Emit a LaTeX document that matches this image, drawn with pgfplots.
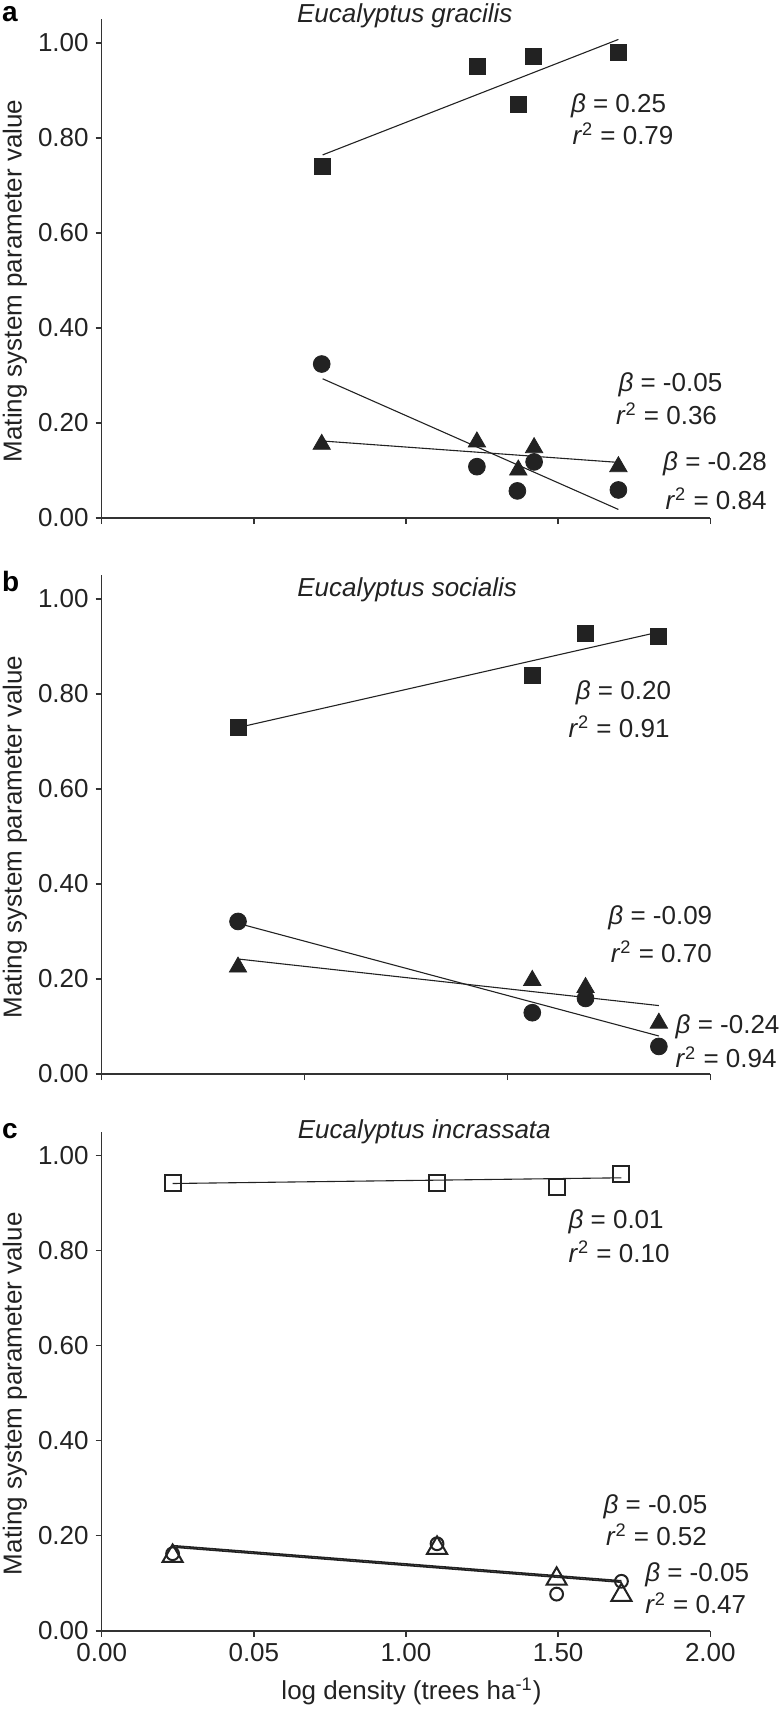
\documentclass[border=0pt]{standalone}
\usepackage{fontspec}
\setmainfont{Liberation Sans}
\usepackage{pgfplots}
\pgfplotsset{compat=1.18}
\definecolor{ink}{HTML}{222222}
\newcommand{\fs}{\fontsize{13}{15.6}\selectfont}
\newcommand{\ann}[3]{\node[anchor=west, inner sep=0pt, font=\fs, text=ink] at (axis cs:#1,#2) {#3};}
\newcommand{\B}[1]{\textit{β} = #1}
\newcommand{\R}[1]{\textit{r}\textsuperscript{2} = #1}

\pgfplotsset{
  panel/.style={
    scale only axis, width=304.3pt, height=249.5pt,
    xmin=0, xmax=2, ymin=0, ymax=1.05,
    axis x line=bottom, axis y line=left,
    axis line style={-, line width=0.8pt, draw=black!80},
    tick style={line width=0.8pt, draw=black!80},
    tick align=outside, major tick length=3pt,
    ytick={0,0.2,0.4,0.6,0.8,1.0},
    yticklabels={0.00,0.20,0.40,0.60,0.80,1.00},
    tick label style={font=\fs, text=ink},
    ylabel={Mating system parameter value},
    % label is rotated, so its yshift moves it to the left
    ylabel style={font=\fs, text=ink, at={(rel axis cs:0,0.475)}, anchor=center, yshift=43.4pt},
    clip=false, anchor=south west,
  },
  fit/.style={no marks, line width=0.55pt, draw=ink},
  sq/.style={only marks, mark=square*, mark size=4pt, mark options={fill=ink, draw=ink}},
  ci/.style={only marks, mark=*, mark size=4.2pt, mark options={fill=ink, draw=ink}},
  tr/.style={only marks, mark=triangle*, mark size=5pt, mark options={fill=ink, draw=ink}},
  osq/.style={only marks, mark=square, mark size=4pt, mark options={draw=ink, line width=1pt}},
  oci/.style={only marks, mark=o, mark size=3.2pt, mark options={draw=ink, line width=1pt}},
  otr/.style={only marks, mark=triangle, mark size=5.8pt, mark options={draw=ink, line width=1pt}},
}

\begin{document}
\begin{tikzpicture}
% a: Eucalyptus gracilis
\begin{axis}[panel, at={(0,0)},
  xtick={0,0.5,1,1.5,2}, xticklabels={}]
\addplot[fit] coordinates {(0.726,0.764) (1.698,1.007)};
\addplot[fit] coordinates {(0.726,0.293) (1.698,0.018)};
\addplot[fit] coordinates {(0.726,0.162) (1.698,0.117)};
\addplot[sq] coordinates {(0.726,0.739) (1.233,0.950) (1.369,0.870) (1.420,0.971) (1.698,0.980)};
\addplot[tr] coordinates {(0.723,0.155) (1.233,0.160) (1.369,0.101) (1.421,0.148) (1.698,0.108)};
\addplot[ci] coordinates {(0.723,0.324) (1.233,0.108) (1.366,0.057) (1.421,0.118) (1.698,0.059)};
\node[font=\fs\itshape, text=ink] at (rel axis cs:0.498,1.006) {Eucalyptus gracilis};
\ann{1.541}{0.867}{\B{0.25}}
\ann{1.546}{0.809}{\R{0.79}}
\ann{1.697}{0.280}{\B{-0.05}}
\ann{1.689}{0.220}{\R{0.36}}
\ann{1.844}{0.114}{\B{-0.28}}
\ann{1.852}{0.041}{\R{0.84}}
\end{axis}

% b: Eucalyptus socialis
\begin{axis}[panel, at={(0,-278pt)},
  xtick={0,0.6667,1.3333,2}, xticklabels={}]
\addplot[fit] coordinates {(0.448,0.729) (1.831,0.930)};
\addplot[fit] coordinates {(0.448,0.317) (1.831,0.080)};
\addplot[fit] coordinates {(0.448,0.242) (1.831,0.144)};
\addplot[sq] coordinates {(0.448,0.729) (1.415,0.838) (1.590,0.928) (1.831,0.920)};
\addplot[tr] coordinates {(0.448,0.225) (1.415,0.197) (1.590,0.182) (1.831,0.107)};
\addplot[ci] coordinates {(0.448,0.321) (1.415,0.129) (1.590,0.159) (1.831,0.058)};
\node[font=\fs\itshape, text=ink] at (rel axis cs:0.502,0.97) {Eucalyptus socialis};
\ann{1.557}{0.802}{\B{0.20}}
\ann{1.533}{0.731}{\R{0.91}}
\ann{1.664}{0.329}{\B{-0.09}}
\ann{1.672}{0.257}{\R{0.70}}
\ann{1.885}{0.099}{\B{-0.24}}
\ann{1.885}{0.035}{\R{0.94}}
\end{axis}

% c: Eucalyptus incrassata
\begin{axis}[panel, at={(0,-556.35pt)},
  xtick={0,0.5,1,1.5,2}, xticklabels={0.00,0.05,1.00,1.50,2.00},
  xlabel={log density (trees ha\textsuperscript{-1})},
  xlabel style={font=\fs, text=ink, at={(rel axis cs:0.509,0)}, anchor=center, yshift=-30.5pt}]
\addplot[fit] coordinates {(0.233,0.941) (1.708,0.953)};
\addplot[fit, line width=0.8pt] coordinates {(0.233,0.179) (1.708,0.105)};
\addplot[fit, line width=0.8pt] coordinates {(0.233,0.176) (1.708,0.102)};
\addplot[osq] coordinates {(0.233,0.942) (1.102,0.942) (1.495,0.933) (1.708,0.960)};
\addplot[otr] coordinates {(0.233,0.157) (1.102,0.174) (1.495,0.109) (1.708,0.075)};
\addplot[oci] coordinates {(0.233,0.162) (1.102,0.183) (1.495,0.077) (1.708,0.104)};
\node[font=\fs\itshape, text=ink] at (rel axis cs:0.53,1.0) {Eucalyptus incrassata};
\ann{1.533}{0.860}{\B{0.01}}
\ann{1.533}{0.798}{\R{0.10}}
\ann{1.648}{0.261}{\B{-0.05}}
\ann{1.656}{0.202}{\R{0.52}}
\ann{1.785}{0.117}{\B{-0.05}}
\ann{1.785}{0.058}{\R{0.47}}
\end{axis}

\node[anchor=base west, inner sep=0pt, font=\fontsize{14}{16}\selectfont\bfseries] at (-50pt,248.15pt) {a};
\node[anchor=base west, inner sep=0pt, font=\fontsize{14}{16}\selectfont\bfseries] at (-50pt,-36.85pt) {b};
\node[anchor=base west, inner sep=0pt, font=\fontsize{14}{16}\selectfont\bfseries] at (-50pt,-310.15pt) {c};

\pgfresetboundingbox
\path[use as bounding box] (-50.85pt,259pt) rectangle (339.65pt,-595.5pt);
\end{tikzpicture}
\end{document}
